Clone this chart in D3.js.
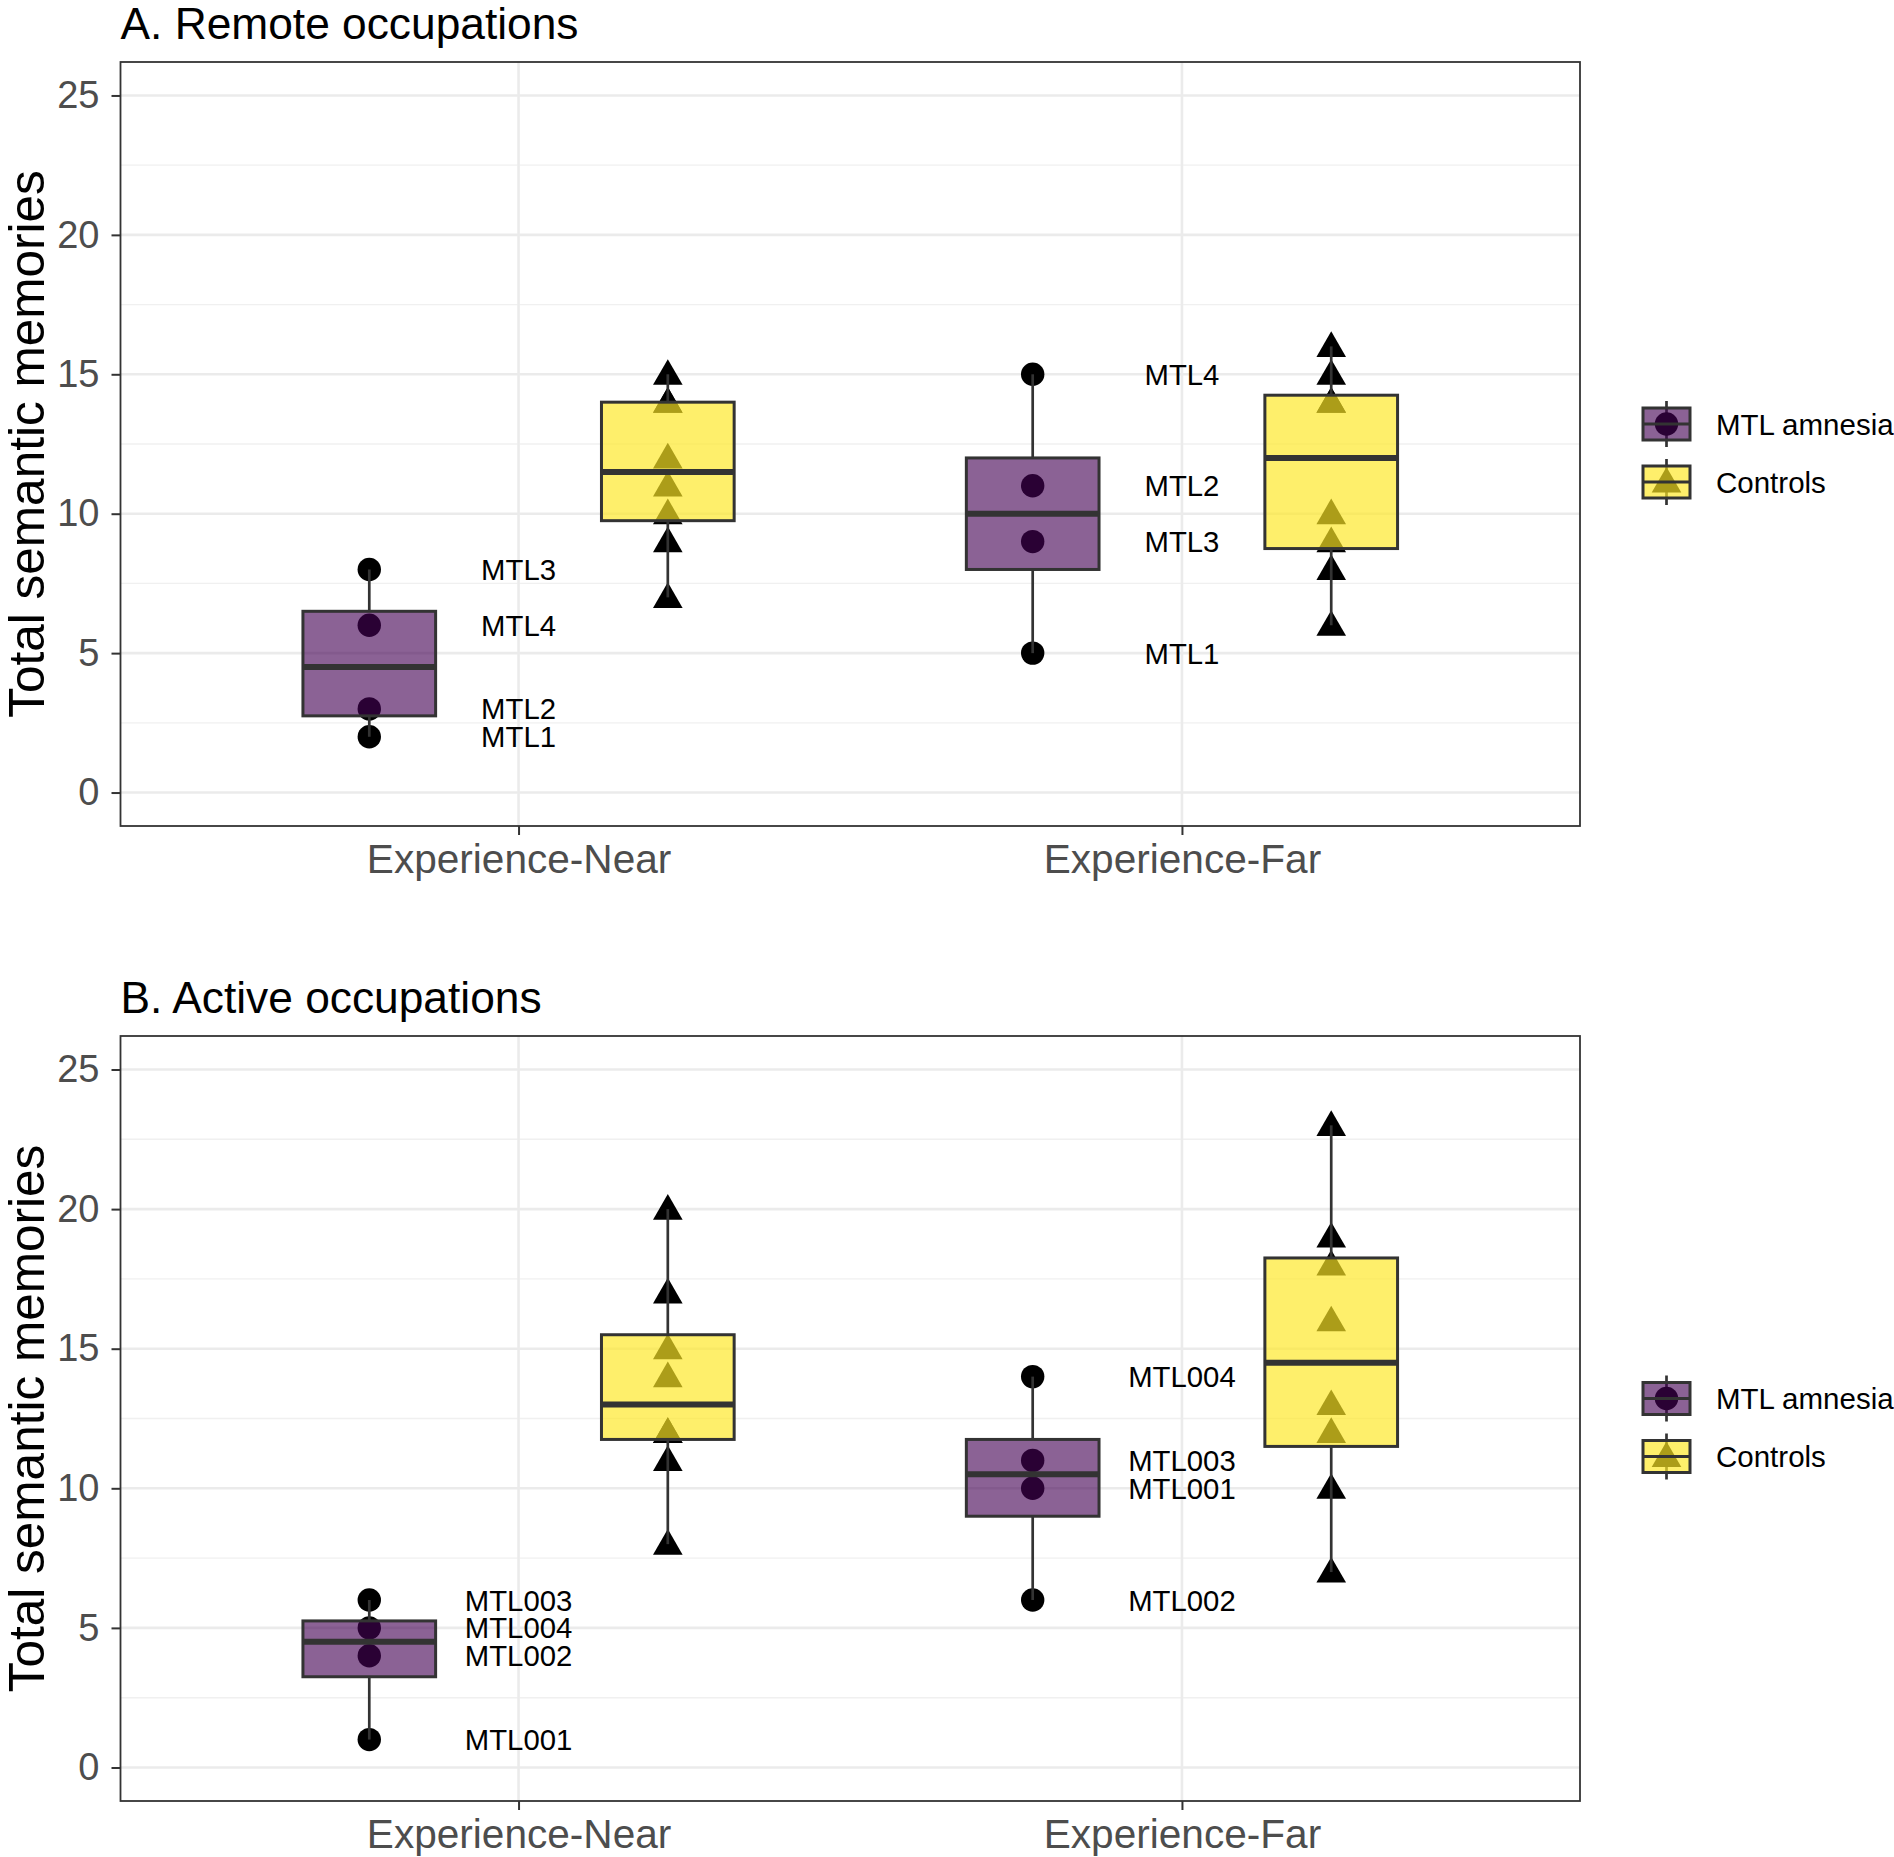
<!DOCTYPE html>
<html>
<head>
<meta charset="utf-8">
<script src="https://cdn.jsdelivr.net/npm/d3@7"></script>
<style>
  html, body { margin: 0; padding: 0; background: #fff; }
  svg { display: block; font-family: "Liberation Sans", Arial, Helvetica, sans-serif; }
</style>
</head>
<body>
<svg id="chart" width="1894" height="1857"></svg>
<script>
// ---------- data ----------
const categories = ["Experience-Near", "Experience-Far"];
const groups = ["MTL amnesia", "Controls"];
const panelTitles = ["A. Remote occupations", "B. Active occupations"];
const yTicks = [0, 5, 10, 15, 20, 25];
const yMinorTicks = [2.5, 7.5, 12.5, 17.5, 22.5];

// Panel A: remote occupations
const remoteNearMTL = [8, 6, 3, 2];
const remoteNearMTLLabels = ["MTL3", "MTL4", "MTL2", "MTL1"];
const remoteNearControls = [15, 14, 14, 12, 11, 10, 9, 7];
const remoteFarMTL = [15, 11, 9, 5];
const remoteFarMTLLabels = ["MTL4", "MTL2", "MTL3", "MTL1"];
const remoteFarControls = [16, 15, 14, 14, 10, 9, 8, 6];

// Panel B: active occupations
const activeNearMTL = [6, 5, 4, 1];
const activeNearMTLLabels = ["MTL003", "MTL004", "MTL002", "MTL001"];
const activeNearControls = [20, 17, 15, 14, 12, 12, 11, 8];
const activeFarMTL = [14, 11, 10, 6];
const activeFarMTLLabels = ["MTL004", "MTL003", "MTL001", "MTL002"];
const activeFarControls = [23, 19, 18, 16, 13, 12, 10, 7];

const panels = [
  { title: panelTitles[0], top: 62, bottom: 826,
    series: [
      { cat: categories[0], group: groups[0], values: remoteNearMTL, labels: remoteNearMTLLabels },
      { cat: categories[0], group: groups[1], values: remoteNearControls },
      { cat: categories[1], group: groups[0], values: remoteFarMTL, labels: remoteFarMTLLabels },
      { cat: categories[1], group: groups[1], values: remoteFarControls }
    ] },
  { title: panelTitles[1], top: 1036, bottom: 1801,
    series: [
      { cat: categories[0], group: groups[0], values: activeNearMTL, labels: activeNearMTLLabels },
      { cat: categories[0], group: groups[1], values: activeNearControls },
      { cat: categories[1], group: groups[0], values: activeFarMTL, labels: activeFarMTLLabels },
      { cat: categories[1], group: groups[1], values: activeFarControls }
    ] }
];

// ---------- styles ----------
const fillColor = d3.scaleOrdinal().domain(groups).range(["#440154", "#FDE725"]);
const fillAlpha = d3.scaleOrdinal().domain(groups).range([0.62, 0.68]);
const outline = "#333333";
const plotLeft = 120.5, plotRight = 1580;

const svg = d3.select("#chart");

const x = d3.scalePoint().domain(categories).range([plotLeft, plotRight]).padding(0.6);
const step = x.step();
const dodge = d3.scaleBand().domain(groups).range([-0.45 * step, 0.45 * step]);
const boxW = 0.2 * step;

const triangle = d3.symbol().type(d3.symbolTriangle).size(380);

function stats(values) {
  const s = values.slice().sort(d3.ascending);
  const q1 = d3.quantile(s, 0.25), med = d3.quantile(s, 0.5), q3 = d3.quantile(s, 0.75);
  const iqr = q3 - q1;
  const lo = d3.min(s.filter(v => v >= q1 - 1.5 * iqr));
  const hi = d3.max(s.filter(v => v <= q3 + 1.5 * iqr));
  return { q1, med, q3, lo, hi };
}

function drawMarker(sel, group, cx, cy, color) {
  if (group === groups[0]) {
    sel.append("circle").attr("cx", cx).attr("cy", cy).attr("r", 11.7).attr("fill", color);
  } else {
    sel.append("path").attr("d", triangle)
      .attr("transform", `translate(${cx},${cy + 2})`).attr("fill", color);
  }
}

panels.forEach(p => {
  const y = d3.scaleLinear().domain([-1.2, 26.2]).range([p.bottom, p.top]);
  const g = svg.append("g");

  // panel background
  g.append("rect").attr("x", plotLeft).attr("y", p.top)
    .attr("width", plotRight - plotLeft).attr("height", p.bottom - p.top).attr("fill", "#fff");

  // grid
  g.selectAll(".minor").data(yMinorTicks).enter().append("line")
    .attr("x1", plotLeft).attr("x2", plotRight)
    .attr("y1", d => y(d)).attr("y2", d => y(d))
    .attr("stroke", "#f0f0f0").attr("stroke-width", 1.4);
  g.selectAll(".major").data(yTicks).enter().append("line")
    .attr("x1", plotLeft).attr("x2", plotRight)
    .attr("y1", d => y(d)).attr("y2", d => y(d))
    .attr("stroke", "#ebebeb").attr("stroke-width", 2.6);
  g.selectAll(".vmajor").data(categories).enter().append("line")
    .attr("x1", d => x(d)).attr("x2", d => x(d))
    .attr("y1", p.top).attr("y2", p.bottom)
    .attr("stroke", "#ebebeb").attr("stroke-width", 2.6);

  // points (drawn first, box overlays them)
  p.series.forEach(s => {
    const cx = x(s.cat) + dodge(s.group) + dodge.bandwidth() / 2;
    s.values.forEach(v => drawMarker(g, s.group, cx, y(v), "#000"));
  });

  // boxplots
  p.series.forEach(s => {
    const cx = x(s.cat) + dodge(s.group) + dodge.bandwidth() / 2;
    const st = stats(s.values);
    g.append("line").attr("x1", cx).attr("x2", cx).attr("y1", y(st.hi)).attr("y2", y(st.q3))
      .attr("stroke", outline).attr("stroke-width", 2.7);
    g.append("line").attr("x1", cx).attr("x2", cx).attr("y1", y(st.q1)).attr("y2", y(st.lo))
      .attr("stroke", outline).attr("stroke-width", 2.7);
    g.append("rect").attr("x", cx - boxW / 2).attr("y", y(st.q3))
      .attr("width", boxW).attr("height", y(st.q1) - y(st.q3))
      .attr("fill", fillColor(s.group)).attr("fill-opacity", fillAlpha(s.group))
      .attr("stroke", outline).attr("stroke-width", 3);
    g.append("line").attr("x1", cx - boxW / 2).attr("x2", cx + boxW / 2)
      .attr("y1", y(st.med)).attr("y2", y(st.med))
      .attr("stroke", outline).attr("stroke-width", 6);
  });

  // participant labels
  p.series.filter(s => s.labels).forEach(s => {
    g.selectAll(null).data(s.values).enter().append("text")
      .attr("x", x(s.cat)).attr("y", d => y(d)).attr("dy", "0.36em")
      .attr("text-anchor", "middle").attr("font-size", 29.3).attr("fill", "#000")
      .text((d, i) => s.labels[i]);
  });

  // panel border
  g.append("rect").attr("x", plotLeft).attr("y", p.top)
    .attr("width", plotRight - plotLeft).attr("height", p.bottom - p.top)
    .attr("fill", "none").attr("stroke", outline).attr("stroke-width", 1.8);

  // axes
  const yAxis = g.append("g").attr("transform", `translate(${plotLeft},0)`)
    .call(d3.axisLeft(y).tickValues(yTicks).tickSize(9).tickPadding(12));
  yAxis.select(".domain").remove();
  yAxis.selectAll("line").attr("stroke", outline).attr("stroke-width", 2);
  yAxis.selectAll("text").attr("font-size", 38).attr("fill", "#4d4d4d")
    .attr("font-family", "Liberation Sans, Arial, sans-serif");

  const xAxis = g.append("g").attr("transform", `translate(0,${p.bottom})`)
    .call(d3.axisBottom(x).tickSize(9).tickPadding(9));
  xAxis.select(".domain").remove();
  xAxis.selectAll("line").attr("stroke", outline).attr("stroke-width", 2);
  xAxis.selectAll("text").attr("font-size", 40.6).attr("fill", "#4d4d4d")
    .attr("font-family", "Liberation Sans, Arial, sans-serif");

  // y title
  g.append("text")
    .attr("transform", `translate(44,${(p.top + p.bottom) / 2}) rotate(-90)`)
    .attr("text-anchor", "middle").attr("font-size", 49.5).attr("fill", "#000")
    .text("Total semantic memories");

  // panel title
  g.append("text").attr("x", plotLeft).attr("y", p.top - 23)
    .attr("font-size", 44.3).attr("fill", "#000").text(p.title);

  // legend
  const mid = (p.top + p.bottom) / 2;
  const legY = [mid - 20, mid + 38];
  groups.forEach((grp, i) => {
    const cy = legY[i];
    const kx = 1643, kw = 47, kh = 32;
    const kcx = kx + kw / 2;
    const lg = g.append("g");
    lg.append("line").attr("x1", kcx).attr("x2", kcx).attr("y1", cy - kh / 2 - 7).attr("y2", cy + kh / 2 + 7)
      .attr("stroke", outline).attr("stroke-width", 2.7);
    drawMarker(lg, grp, kcx, cy, "#000");
    lg.append("rect").attr("x", kx).attr("y", cy - kh / 2).attr("width", kw).attr("height", kh)
      .attr("fill", fillColor(grp)).attr("fill-opacity", fillAlpha(grp))
      .attr("stroke", outline).attr("stroke-width", 3);
    lg.append("line").attr("x1", kx).attr("x2", kx + kw).attr("y1", cy).attr("y2", cy)
      .attr("stroke", outline).attr("stroke-width", 3);
    lg.append("text").attr("x", 1716).attr("y", cy).attr("dy", "0.36em")
      .attr("font-size", 29.5).attr("fill", "#000").text(grp);
  });
});
</script>
</body>
</html>
